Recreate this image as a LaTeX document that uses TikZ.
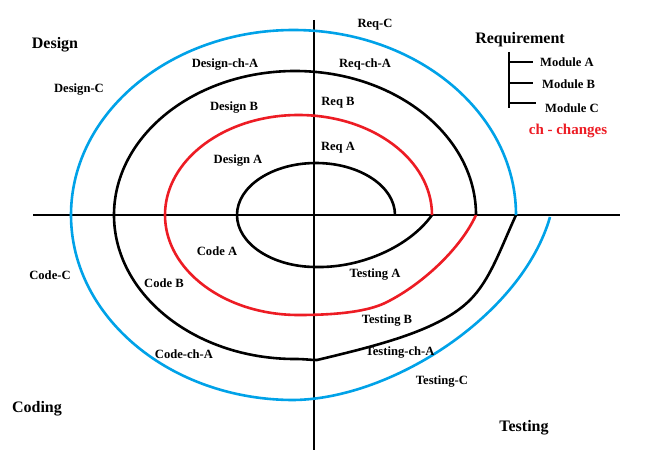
\documentclass[tikz,border=0pt]{standalone}
\usepackage{fontspec}
\setmainfont{Liberation Serif}
\definecolor{pblue}{HTML}{00A2E8}
\definecolor{pred}{HTML}{ED1C24}
\begin{document}
\begin{tikzpicture}[x=1pt,y=-1pt,
  ln/.style={line width=2.6pt},
  lbl/.style={font=\bfseries\fontsize{12.6}{14}\selectfont, inner sep=0pt},
  big/.style={font=\bfseries\fontsize{16}{18}\selectfont, inner sep=0pt}]
\useasboundingbox (0,0) rectangle (653,452);
\fill[white] (0,0) rectangle (653,452);
% axes
\draw[ln] (33,215) -- (620,215);
\draw[ln] (314,20) -- (314,450);
% inner black A
\draw[ln] (395,215) arc[start angle=0,end angle=-180,x radius=79,y radius=52]
  arc[start angle=-180,end angle=-270,x radius=79,y radius=52]
  .. controls (362,268) and (410,246) .. (432,215);
% red B
\draw[ln,pred] (432,215) arc[start angle=0,end angle=-180,x radius=133.5,y radius=100]
  arc[start angle=-180,end angle=-270,x radius=133.5,y radius=100]
  .. controls (340,315) and (368,311) .. (385,303)
  .. controls (420,286) and (460,250) .. (476,215);
% black outer ch-A
\draw[ln] (476,215) arc[start angle=0,end angle=-180,x radius=181,y radius=144]
  arc[start angle=-180,end angle=-270,x radius=181,y radius=144]
  .. controls (305,359) and (310,360) .. (317,360)
  .. controls (380,345) and (440,330) .. (470,300)
  .. controls (490,280) and (500,250) .. (516,215);
% blue C
\draw[ln,pblue] (516,215) arc[start angle=0,end angle=-180,x radius=222.5,y radius=185]
  arc[start angle=-180,end angle=-270,x radius=222.5,y radius=185]
  .. controls (392,399) and (522,315) .. (550,217);
% legend
\draw[ln] (509,52) -- (509,108);
\draw[ln] (509,62) -- (533,62);
\draw[ln] (509,83) -- (533,83);
\draw[ln] (509,103) -- (536,103);
\node[big] (req) at (520,40) {Requirement};
\node[lbl,anchor=west] (ma) at (540,62) {Module A};
\node[lbl,anchor=west] (mb) at (542,84) {Module B};
\node[lbl,anchor=west] (mc) at (545,108) {Module C};
\node[big,pred,font=\bfseries\fontsize{15}{17}\selectfont] (chg) at (568,131) {ch - changes};
% quadrant titles
\node[big] (des) at (55,45) {Design};
\node[big] (cod) at (37,409) {Coding};
\node[big] (tst) at (524,428) {Testing};
% labels
\node[lbl] (dc) at (79,90) {Design-C};
\node[lbl] (dch) at (225,65) {Design-ch-A};
\node[lbl] (db) at (234,108) {Design B};
\node[lbl] (da) at (238,161) {Design A};
\node[lbl] (rc) at (375,25) {Req-C};
\node[lbl] (rch) at (365,64) {Req-ch-A};
\node[lbl] (rb) at (338,103) {Req B};
\node[lbl] (ra) at (338,148) {Req A};
\node[lbl] (cc) at (50,275) {Code-C};
\node[lbl] (ca) at (217,251) {Code A};
\node[lbl] (cb) at (164,283) {Code B};
\node[lbl] (cch) at (184,354) {Code-ch-A};
\node[lbl] (ta) at (375,275) {Testing A};
\node[lbl] (tb) at (387,321) {Testing B};
\node[lbl] (tch) at (400,353) {Testing-ch-A};
\node[lbl] (tc) at (442,382) {Testing-C};
\end{tikzpicture}
\end{document}
